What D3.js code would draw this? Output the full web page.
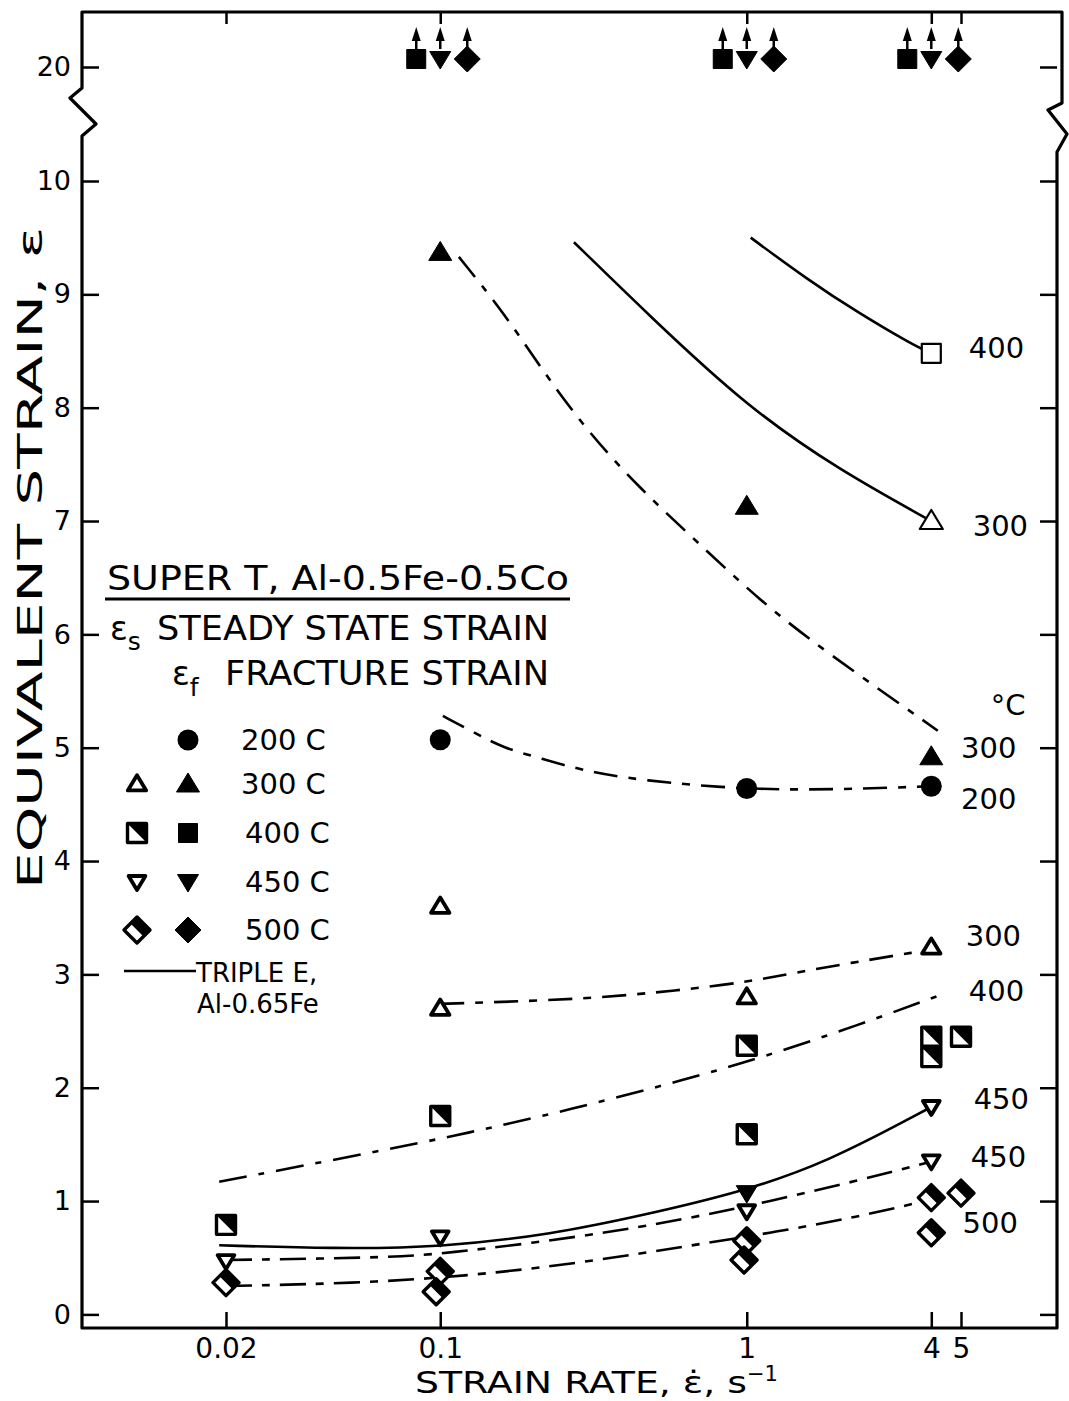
<!DOCTYPE html>
<html>
<head>
<meta charset="utf-8">
<script src="https://cdn.jsdelivr.net/npm/d3@7"></script>
<style>
  body { margin: 0; background: #fff; }
  svg text { font-family: "DejaVu Sans", sans-serif; fill: #000; }
</style>
</head>
<body>
<svg id="chart" width="1069" height="1401"></svg>
<script>
// ticks
const xTicks = [0.02, 0.1, 1, 4, 5];
const xTickLabels = ['0.02', '0.1', '1', '4', '5'];
const yTicks = [0, 1, 2, 3, 4, 5, 6, 7, 8, 9, 10, 20];

// fracture strain, filled symbols  [strain rate, strain]
const frac200 = [[0.1, 5.07], [1, 4.64], [4, 4.66]];
const frac300 = [[0.1, 9.37], [1, 7.13], [4, 4.92]];
const frac400 = [[0.1, 20], [1, 20], [4, 20]];
const frac450 = [[0.1, 20], [1, 20], [4, 20], [1, 1.07]];
const frac500 = [[0.1, 20], [1, 20], [4, 20]];

// steady state strain, open / half symbols
const ss300 = [[0.1, 3.6], [0.1, 2.7], [1, 2.8], [4, 3.24]];
const ss400 = [[0.02, 0.79], [0.1, 1.75], [1, 2.37], [1, 1.59], [4, 2.45], [4, 2.27], [5, 2.45]];
const ss450 = [[0.02, 0.47], [0.1, 0.68], [1, 0.91], [4, 1.35], [4, 1.83]];
const ss500 = [[0.02, 0.28], [0.1, 0.38], [0.097, 0.2], [1, 0.65], [0.98, 0.48], [4, 1.03], [5, 1.07], [4, 0.72]];

// Triple E, Al-0.65Fe
const te400 = [[4, 8.48]];
const te300 = [[4, 7.0]];
const teCurve400 = [[1.03, 9.5], [1.58, 9.13], [2.3, 8.84], [3.5, 8.55], [4, 8.48]];
const teCurve300 = [[0.273, 9.46], [0.486, 8.8], [1.0, 8.01], [2.0, 7.45], [4, 7.0]];
const teCurve450 = [[0.019, 0.61], [0.045, 0.58], [0.1, 0.59], [0.235, 0.71], [0.45, 0.87], [0.93, 1.07], [1.8, 1.33], [4, 1.83]];

// hand fitted curves through the Super T data
const fitFrac300 = [[0.115, 9.33], [0.16, 8.85], [0.213, 8.35], [0.3, 7.8], [0.45, 7.28], [0.7, 6.8], [1.1, 6.3], [1.8, 5.85], [4.2, 5.15]];
const fitFrac200 = [[0.102, 5.28], [0.13, 5.13], [0.16, 5.0], [0.21, 4.91], [0.29, 4.8], [0.45, 4.71], [1, 4.63], [2, 4.63], [4, 4.66]];
const fitSs300 = [[0.1, 2.74], [0.3, 2.78], [0.6, 2.86], [1, 2.93], [1.6, 3.04], [4, 3.22]];
const fitSs400 = [[0.019, 1.17], [0.066, 1.45], [0.123, 1.6], [0.26, 1.8], [0.63, 2.07], [1.13, 2.27], [2.3, 2.55], [4.4, 2.83]];
const fitSs450 = [[0.02, 0.48], [0.064, 0.5], [0.1, 0.53], [0.3, 0.69], [0.63, 0.84], [1.2, 1.0], [2.3, 1.18], [3.9, 1.34]];
const fitSs500 = [[0.02, 0.25], [0.064, 0.28], [0.16, 0.37], [0.33, 0.48], [0.63, 0.6], [1.2, 0.72], [2.3, 0.86], [3.8, 1.0]];

// curve end labels
const labelTexts = ['400', '300', '°C', '300', '200', '300', '400', '450', '450', '500'];
const labelRates = [5.3, 5.46, 6.25, 5.0, 5.0, 5.18, 5.3, 5.5, 5.38, 5.06];
const labelStrains = [8.53, 6.96, 5.38, 5.0, 4.55, 3.34, 2.86, 1.9, 1.39, 0.81];

const legendTemps = ['200 C', '300 C', '400 C', '450 C', '500 C'];

const svg = d3.select('#chart');
const frame = {left: 82, right: 1057, top: 12, bottom: 1328};

const x = d3.scaleLog().domain([0.02, 5]).range([226, 961]);
const y = d3.scaleLinear().domain([-0.12, 10, 20]).range([frame.bottom, 181, 67]);

// frame with axis breaks
const bTop = y(10) - 45, bBot = y(20) + 21;
const L = frame.left, R = frame.right;
svg.append('path')
  .attr('d', `M${L},${frame.bottom}L${L},${bTop}L${L + 14},${bTop - 12}L${L - 12},${bBot + 10}L${L},${bBot}L${L},${frame.top}` +
    `L${R + 5},${frame.top}L${R + 5},${bBot + 15}L${R - 9},${bBot + 22}L${R + 10},${bTop - 2}L${R},${bTop + 16}L${R},${frame.bottom}Z`)
  .attr('fill', 'none')
  .attr('stroke', '#000')
  .attr('stroke-width', 3.2)
  .attr('stroke-linejoin', 'round');

// axes
const xAxis = svg.append('g')
  .attr('transform', `translate(0, ${frame.bottom})`)
  .call(d3.axisBottom(x).tickValues(xTicks).tickFormat((d, i) => xTickLabels[i])
    .tickSizeInner(-16).tickSizeOuter(0).tickPadding(10));
xAxis.select('.domain').remove();
xAxis.selectAll('text').attr('font-size', 28).attr('font-family', '"DejaVu Sans", sans-serif');

const xTop = svg.append('g')
  .attr('transform', `translate(0, ${frame.top})`)
  .call(d3.axisTop(x).tickValues(xTicks).tickFormat('').tickSizeInner(-12).tickSizeOuter(0));
xTop.select('.domain').remove();

const yAxis = svg.append('g')
  .attr('transform', `translate(${L}, 0)`)
  .call(d3.axisLeft(y).tickValues(yTicks).tickSizeInner(-17).tickSizeOuter(0).tickPadding(11));
yAxis.select('.domain').remove();
yAxis.selectAll('text').attr('font-size', 27).attr('font-family', '"DejaVu Sans", sans-serif');

const yRight = svg.append('g')
  .attr('transform', `translate(${R}, 0)`)
  .call(d3.axisRight(y).tickValues(yTicks).tickFormat('').tickSizeInner(-17).tickSizeOuter(0));
yRight.select('.domain').remove();

svg.selectAll('.tick line').attr('stroke-width', 2.5);

// curves (smooth, hand drawn look)
const line = d3.line()
  .x(d => x(d[0]))
  .y(d => y(d[1]))
  .curve(d3.curveBasis);

const curves = [
  {pts: teCurve400, dash: null},
  {pts: teCurve300, dash: null},
  {pts: teCurve450, dash: null},
  {pts: fitFrac300, dash: '26 11 7 11'},
  {pts: fitFrac200, dash: '24 11 8 11'},
  {pts: fitSs300, dash: '24 11 8 11'},
  {pts: fitSs400, dash: '28 12 6 12'},
  {pts: fitSs450, dash: '26 10 8 10'},
  {pts: fitSs500, dash: '26 10 8 10'}
];

svg.append('g').selectAll('path')
  .data(curves)
  .enter()
  .append('path')
  .attr('d', c => line(c.pts))
  .attr('fill', 'none')
  .attr('stroke', '#000')
  .attr('stroke-width', 2.6)
  .attr('stroke-dasharray', c => c.dash);

// symbols
const shapes = {
  tri: 'M0,-11L11.5,8L-11.5,8Z',
  triDown: 'M0,10L10.5,-7.5L-10.5,-7.5Z',
  square: 'M-9.5,-9.5H9.5V9.5H-9.5Z',
  diamond: 'M0,-13L13,0L0,13L-13,0Z'
};
const halves = {
  square: 'M-9.5,-9.5H9.5V9.5Z',
  diamond: 'M-6.5,-6.5L0,-13L13,0L6.5,6.5Z'
};

function drawMarker(g, type, style) {
  if (type === 'circle') {
    g.append('circle').attr('r', 10.5).attr('fill', '#000');
    return;
  }
  // open steady-state triangles are drawn smaller and heavier
  const k = (style === 'open') ? 0.8 : 1;
  const p = g.append('path')
    .attr('d', shapes[type])
    .attr('transform', `scale(${k})`)
    .attr('stroke', '#000')
    .attr('stroke-linejoin', 'round')
    .attr('vector-effect', 'non-scaling-stroke');
  if (style === 'full') p.attr('fill', '#000').attr('stroke-width', 1);
  else if (style === 'thin') p.attr('fill', '#fff').attr('stroke-width', 2.2);
  else if (style === 'open') p.attr('fill', '#fff').attr('stroke-width', 3.8);
  else p.attr('fill', '#fff').attr('stroke-width', 3.4);
  if (style === 'half') g.append('path').attr('d', halves[type]).attr('fill', '#000');
}

// markers above the break (strain >= 20) are spread sideways and carry an arrow
const topShift = {square: -24, triDown: 0, diamond: 27};

const markerSets = [
  {pts: ss300, type: 'tri', style: 'open'},
  {pts: ss400, type: 'square', style: 'half'},
  {pts: ss450, type: 'triDown', style: 'open'},
  {pts: ss500, type: 'diamond', style: 'half'},
  {pts: te400, type: 'square', style: 'thin'},
  {pts: te300, type: 'tri', style: 'thin'},
  {pts: frac200, type: 'circle', style: 'full'},
  {pts: frac300, type: 'tri', style: 'full'},
  {pts: frac400, type: 'square', style: 'full'},
  {pts: frac450, type: 'triDown', style: 'full'},
  {pts: frac500, type: 'diamond', style: 'full'}
];

markerSets.forEach(set => {
  set.pts.forEach(d => {
    const off = d[1] >= 20;
    const px = x(d[0]) + (off ? topShift[set.type] : 0);
    const py = y(d[1]) - (off ? 8 : 0);
    const g = svg.append('g').attr('transform', `translate(${px}, ${py})`);
    drawMarker(g, set.type, set.style);
    if (off) {
      g.append('line').attr('x1', 0).attr('x2', 0).attr('y1', -10).attr('y2', -20)
        .attr('stroke', '#000').attr('stroke-width', 2.5);
      g.append('path').attr('d', 'M0,-32L4.5,-18L-4.5,-18Z').attr('fill', '#000');
    }
  });
});

// curve labels
svg.append('g').selectAll('text')
  .data(labelTexts)
  .enter()
  .append('text')
  .attr('x', (d, i) => x(labelRates[i]))
  .attr('y', (d, i) => y(labelStrains[i]))
  .attr('dy', '0.36em')
  .attr('font-size', 29)
  .text(d => d);

// legend
const leg = svg.append('g');
leg.append('text')
  .attr('x', 107).attr('y', 590)
  .attr('font-size', 34)
  .attr('textLength', 462).attr('lengthAdjust', 'spacingAndGlyphs')
  .text('SUPER T, Al-0.5Fe-0.5Co');
leg.append('line')
  .attr('x1', 105).attr('x2', 570).attr('y1', 599).attr('y2', 599)
  .attr('stroke', '#000').attr('stroke-width', 3);

const ssLine = leg.append('text').attr('x', 110).attr('y', 640).attr('font-size', 33);
ssLine.append('tspan').text('ε');
ssLine.append('tspan').attr('font-size', 25).attr('dy', 10).text('s');
ssLine.append('tspan').attr('dy', -10).attr('x', 157)
  .attr('textLength', 392).attr('lengthAdjust', 'spacingAndGlyphs')
  .text('STEADY STATE STRAIN');

const frLine = leg.append('text').attr('x', 172).attr('y', 685).attr('font-size', 33);
frLine.append('tspan').text('ε');
frLine.append('tspan').attr('font-size', 25).attr('dy', 11).text('f');
frLine.append('tspan').attr('dy', -11).attr('x', 225)
  .attr('textLength', 324).attr('lengthAdjust', 'spacingAndGlyphs')
  .text('FRACTURE STRAIN');

const legRows = [740, 784, 833, 882, 930];
const legTypes = ['circle', 'tri', 'square', 'triDown', 'diamond'];
const legSteady = [null, 'open', 'half', 'open', 'half'];
legRows.forEach((ry, i) => {
  if (legSteady[i]) drawMarker(leg.append('g').attr('transform', `translate(137, ${ry})`), legTypes[i], legSteady[i]);
  drawMarker(leg.append('g').attr('transform', `translate(188, ${ry})`), legTypes[i], 'full');
  leg.append('text')
    .attr('x', i < 2 ? 241 : 245).attr('y', ry).attr('dy', '0.36em')
    .attr('font-size', 29)
    .text(legendTemps[i]);
});

leg.append('line')
  .attr('x1', 124).attr('x2', 196).attr('y1', 971).attr('y2', 971)
  .attr('stroke', '#000').attr('stroke-width', 2.5);
leg.append('text').attr('x', 196).attr('y', 982).attr('font-size', 26).text('TRIPLE E,');
leg.append('text').attr('x', 197).attr('y', 1013).attr('font-size', 26).text('Al-0.65Fe');

// axis titles
svg.append('text')
  .attr('transform', 'translate(42, 558) rotate(-90)')
  .attr('text-anchor', 'middle')
  .attr('font-size', 34)
  .attr('textLength', 662).attr('lengthAdjust', 'spacingAndGlyphs')
  .text('EQUIVALENT STRAIN, ε');

const xt = svg.append('text')
  .attr('x', 415).attr('y', 1393)
  .attr('font-size', 30);
xt.append('tspan')
  .attr('textLength', 332).attr('lengthAdjust', 'spacingAndGlyphs')
  .text('STRAIN RATE, ε\u0307, s');
xt.append('tspan').attr('font-size', 21).attr('dy', -12).text('−1');
</script>
</body>
</html>
